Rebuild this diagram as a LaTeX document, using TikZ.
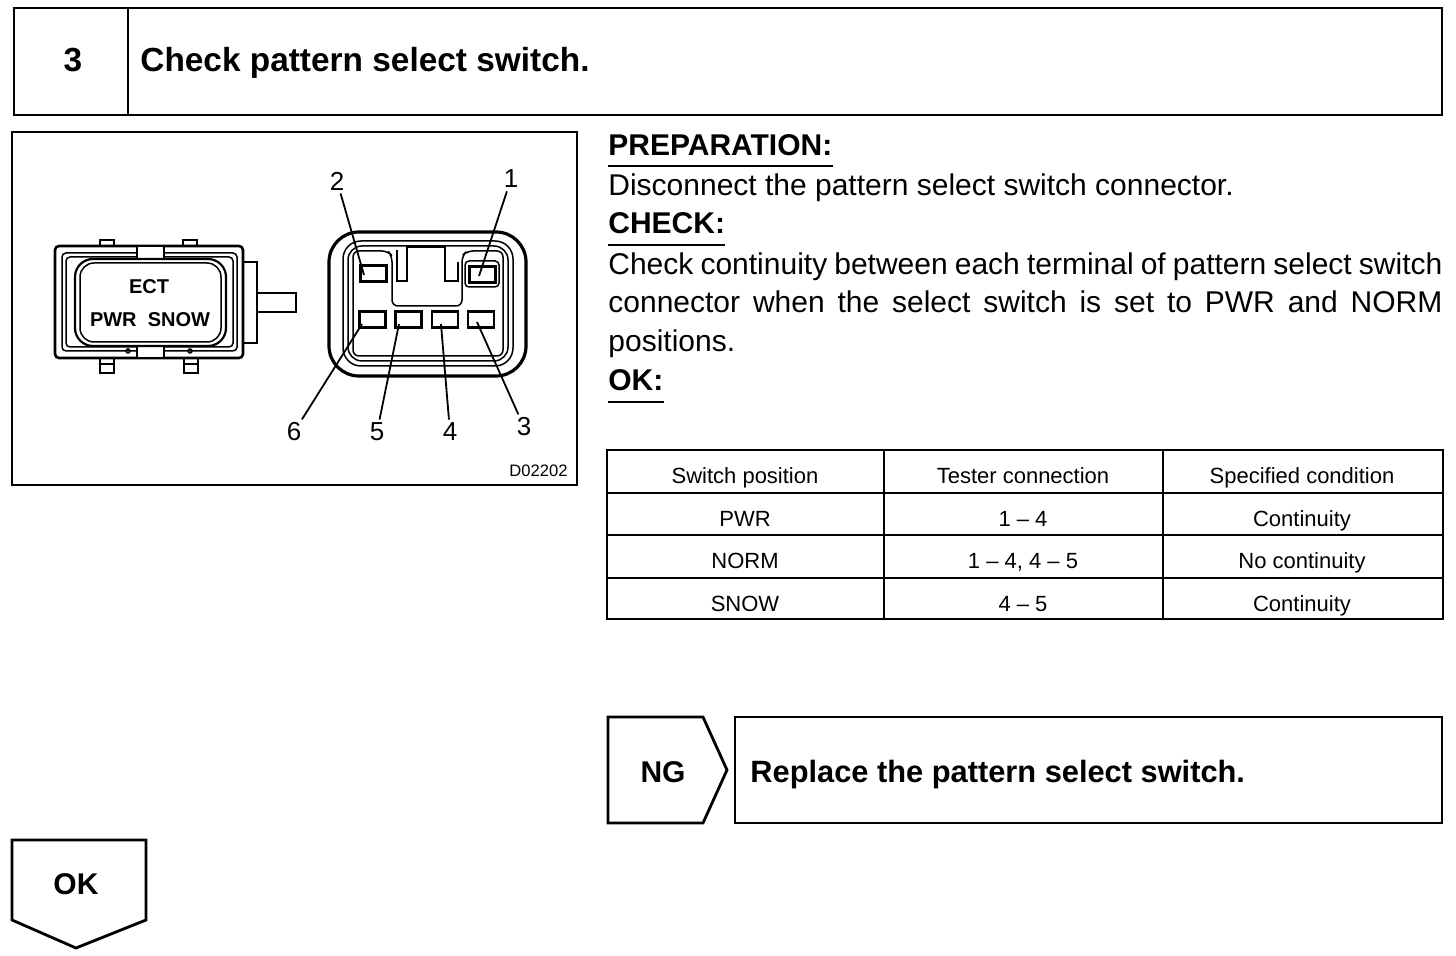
\documentclass[tikz,border=0pt]{standalone}
\usepackage{fontspec}
\setmainfont{Liberation Sans}

\def\swbody{(55,246) rectangle (243,358)}
\def\swbutton{(75,259) rectangle (226,346)}
\def\plugbody{(329,232) rectangle (526,376)}
\tikzset{box/.style={draw, line width=1.4pt},
    part/.style={draw, line width=1.1pt},
    fine/.style={draw, line width=0.75pt},
    term/.style={draw, line width=1.3pt, minimum width=13pt, minimum height=8pt, inner sep=0pt},
    lead/.style={draw, line width=0.9pt},
    num/.style={font=\fontsize{13}{13}\selectfont, inner sep=1.5pt},
    big/.style={font=\fontsize{16.7}{20}\selectfont\bfseries, inner sep=0pt},
    head/.style={font=\fontsize{15}{18}\selectfont\bfseries, inner sep=0pt, anchor=base west},
    body/.style={font=\fontsize{15}{18}\selectfont, inner sep=0pt, anchor=base west},
    cell/.style={font=\fontsize{11}{13}\selectfont, inner sep=0pt, anchor=base}}

\begin{document}
\begin{tikzpicture}[x=0.5pt,y=-0.5pt]
    \useasboundingbox (0,0) rectangle (1456,956);

    % title bar
    \draw[box] (14,8) rectangle (1442,115);
    \draw[box] (128,8) -- (128,115);
    \node[big] (stepno) at (73,60) {3};
    \node[big, anchor=base west] (title) at (140,72) {Check pattern select switch.};

    % illustration
    \draw[box] (12,132) rectangle (577,485);
    \node[font=\fontsize{8.3}{9}\selectfont, anchor=base east, inner sep=0pt] (figno) at (568,477) {D02202};

    % pattern select switch
    \draw[part] (100,240) rectangle (114,246);
    \draw[part] (183,240) rectangle (197,246);
    \draw[part] (100,358) rectangle (114,373);
    \draw[part] (184,358) rectangle (198,373);
    \draw[fine] (100,364) -- (114,364);
    \draw[fine] (184,364) -- (198,364);
    \draw[part] (243,262) rectangle (257,343);
    \draw[part] (257,293) rectangle (296,312);
    \draw[line width=1.3pt, rounded corners=2pt] \swbody;
    \draw[fine, rounded corners=2pt] (62,253) rectangle (237,351);
    \draw[fine, rounded corners=2pt] (66,257) rectangle (233,347);
    \begin{scope}
        \fill[white] (137,247) rectangle (164,258);
        \fill[white] (137,346) rectangle (164,357);
    \end{scope}
    \draw[fine] (137,247) -- (137,258) (164,247) -- (164,258);
    \draw[fine] (137,346) -- (137,357) (164,346) -- (164,357);
    \draw[part, rounded corners=9pt] \swbutton;
    \draw[fine, rounded corners=7pt] (80,263) rectangle (221,342);
    \draw[fine] (128,351) circle (2);
    \draw[fine] (190,351) circle (2);
    \node[font=\fontsize{10}{11}\selectfont\bfseries, inner sep=0pt] (ect) at (149,287) {ECT};
    \node[font=\fontsize{10}{11}\selectfont\bfseries, inner sep=0pt] (mode) at (150,320) {PWR\ \ SNOW};

    % connector face
    \draw[line width=1.6pt, rounded corners=15pt] \plugbody;
    \draw[fine, rounded corners=9pt] (343,241) rectangle (513,366);
    \draw[fine, rounded corners=7pt] (348,246) rectangle (508,361);
    \draw[fine, rounded corners=3pt] (353,251) -- (388,251) -- (392,256) -- (392,306)
        -- (462,306) -- (462,256) -- (467,251) -- (503,251) -- (503,356) -- (353,356) -- cycle;
    \draw[fine] (397,250) -- (397,281) -- (407,281) -- (407,247) -- (445,247) -- (445,281)
        -- (458,281) -- (458,262);
    \draw[fine, rounded corners=2pt] (465,261) rectangle (499,287);
    \node[term] (t2) at (373.5,273.5) {};
    \node[term] (t1) at (482.5,274.5) {};
    \node[term] (t6) at (372.5,319.5) {};
    \node[term] (t5) at (408.5,319.5) {};
    \node[term] (t4) at (445,319.5) {};
    \node[term] (t3) at (481,319.5) {};

    \coordinate (e2) at (364,275);
    \coordinate (e1) at (479,276);
    \coordinate (e6) at (362,324);
    \coordinate (e5) at (399,324);
    \coordinate (e4) at (441,324);
    \coordinate (e3) at (477,322);
    \node[num] (n2) at (337,181) {2};
    \node[num] (n1) at (511,179) {1};
    \node[num] (n6) at (294,432) {6};
    \node[num] (n5) at (377,432) {5};
    \node[num] (n4) at (450,432) {4};
    \node[num] (n3) at (524,427) {3};
    \draw[lead] (n2) -- (e2);
    \draw[lead] (n1) -- (e1);
    \draw[lead] (n6) -- (e6);
    \draw[lead] (n5) -- (e5);
    \draw[lead] (n4) -- (e4);
    \draw[lead] (n3) -- (e3);

    % instructions
    \node[head] (prep) at (608,156) {PREPARATION:};
    \draw[line width=1pt] ([yshift=-5pt]prep.base west) -- ([yshift=-5pt]prep.base east);
    \node[body] (disc) at (608,196) {Disconnect the pattern select switch connector.};
    \node[head] (check) at (608,234) {CHECK:};
    \draw[line width=1pt] ([yshift=-5.5pt]check.base west) -- ([yshift=-5.5pt]check.base east);
    \node[body] (chk1) at (608,275) {\makebox[417pt][s]{Check continuity between each terminal of pattern select switch}};
    \node[body] (chk2) at (608,313) {\makebox[417pt][s]{connector when the select switch is set to PWR and NORM}};
    \node[body] (chk3) at (608,352) {positions.};
    \node[head] (ok) at (608,391) {OK:};
    \draw[line width=1pt] ([yshift=-5.5pt]ok.base west) -- ([yshift=-5.5pt]ok.base east);

    % table
    \draw[box] (607,450) rectangle (1443,619);
    \draw[part] (884,450) -- (884,619);
    \draw[part] (1163,450) -- (1163,619);
    \draw[part] (607,493) -- (1443,493);
    \draw[part] (607,535) -- (1443,535);
    \draw[box] (607,578) -- (1443,578);
    \node[cell] (h1) at (745,484) {Switch position};
    \node[cell] (h2) at (1023,484) {Tester connection};
    \node[cell] (h3) at (1302,484) {Specified condition};
    \node[cell] (pwr) at (745,527) {PWR};
    \node[cell] (pwrc) at (1023,527) {1 -- 4};
    \node[cell] (pwrs) at (1302,527) {Continuity};
    \node[cell] (norm) at (745,569) {NORM};
    \node[cell] (normc) at (1023,569) {1 -- 4, 4 -- 5};
    \node[cell] (norms) at (1302,569) {No continuity};
    \node[cell] (snow) at (745,611) {SNOW};
    \node[cell] (snowc) at (1023,611) {4 -- 5};
    \node[cell] (snows) at (1302,611) {Continuity};

    % NG branch
    \draw[box] (608,717) -- (703,717) -- (727,770) -- (703,823) -- (608,823) -- cycle;
    \node[head, anchor=base] (ng) at (663,782) {NG};
    \draw[box] (735,717) rectangle (1442,823);
    \node[head, font=\fontsize{15.4}{18}\selectfont\bfseries] (repl) at (750,782) {Replace the pattern select switch.};

    % OK branch
    \draw[box] (12,840) -- (146,840) -- (146,920) -- (76,948) -- (12,920) -- cycle;
    \node[head, anchor=base] (okgo) at (76,894) {OK};

\end{tikzpicture}
\end{document}
